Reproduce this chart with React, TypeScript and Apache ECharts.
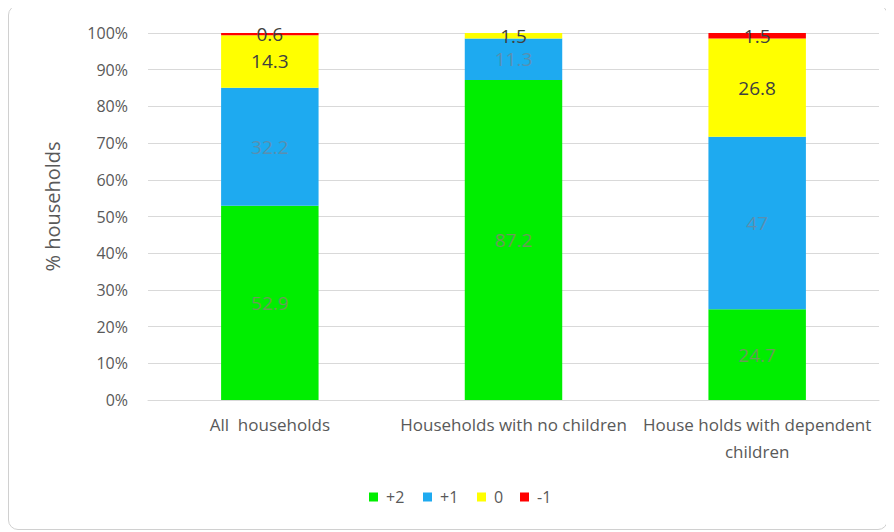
import React, { useEffect, useRef } from "react";
import * as echarts from "echarts";

const categories = ["All  households", "Households with no children", "House holds with dependent\nchildren"];
const seriesNames = ["+2", "+1", "0", "-1"];
const plus2 = [52.9, 87.2, 24.7];
const plus1 = [32.2, 11.3, 47];
const zero = [14.3, 1.5, 26.8];
const minus1 = [0.6, 0, 1.5];
const colors = ["#00ee00", "#1eaaf0", "#ffff00", "#ff0000"];
const labelColors = ["#6a9a5a", "#5a8fb0", "#404040", "#404040"];
const legendLefts = [360, 414, 468, 511];

export default function App() {
  const ref = useRef<HTMLDivElement>(null);
  useEffect(() => {
    const chart = echarts.init(ref.current!, null, { renderer: "svg" });
    const data = [plus2, plus1, zero, minus1];
    chart.setOption({
      animation: false,
      textStyle: { fontFamily: "Open Sans" },
      grid: { left: 139, right: 8, top: 27, bottom: 129 },
      legend: seriesNames.map((name, i) => ({
        top: 483,
        left: legendLefts[i],
        padding: 0,
        itemWidth: 9,
        itemHeight: 9,
        icon: "rect",
        textStyle: { color: "#595959", fontSize: 16, padding: [0, 0, 0, 3] },
        data: [name],
      })),
      xAxis: {
        type: "category",
        data: categories,
        axisTick: { show: false },
        axisLine: { lineStyle: { color: "#d9d9d9" } },
        axisLabel: { color: "#595959", fontSize: 17, interval: 0, margin: 11, lineHeight: 27 },
      },
      yAxis: {
        type: "value",
        min: 0,
        max: 100,
        interval: 10,
        name: "% households",
        nameLocation: "middle",
        nameGap: 86,
        nameTextStyle: { color: "#595959", fontSize: 20, padding: [0, 0, 0, 20] },
        axisLabel: { formatter: "{value}%", color: "#595959", fontSize: 16, margin: 20 },
        splitLine: { lineStyle: { color: "#d9d9d9" } },
      },
      series: seriesNames.map((name, i) => ({
        name,
        type: "bar",
        stack: "total",
        barWidth: "40%",
        itemStyle: { color: colors[i] },
        label: {
          show: true,
          position: "inside",
          color: labelColors[i],
          fontSize: 19,
          lineHeight: 18,
          formatter: (p: any) => (p.value > 0 ? String(p.value) : ""),
        },
        data: data[i],
      })),
    });
    return () => chart.dispose();
  }, []);
  return (
    <div
      style={{
        width: 880,
        height: 525,
        border: "1px solid #d0d0d0",
        borderRadius: 10,
        boxSizing: "border-box",
        margin: "-3px 0 0 0",
      }}
    >
      <div ref={ref} style={{ width: 878, height: 523 }} />
    </div>
  );
}
